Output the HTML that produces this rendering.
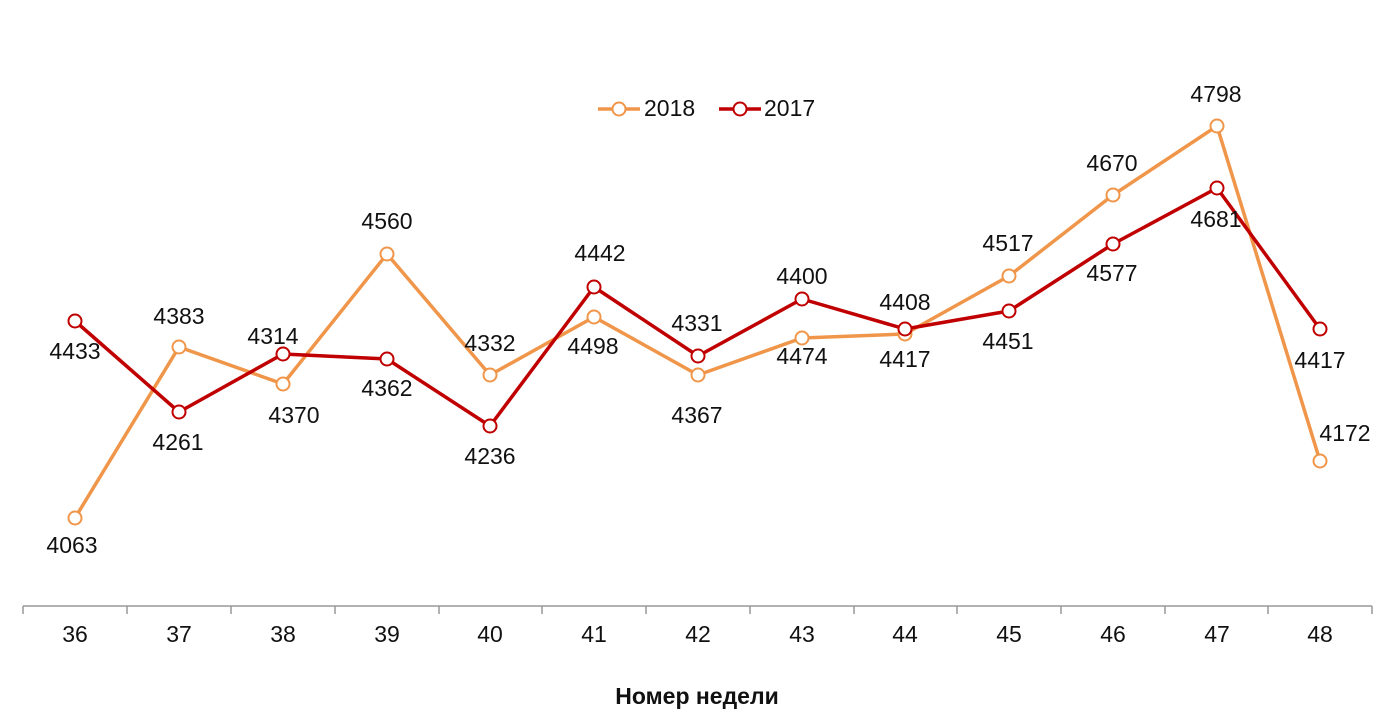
<!DOCTYPE html>
<html><head><meta charset="utf-8"><style>
html,body{margin:0;padding:0;background:#fff;}
svg text{font-family:"Liberation Sans",Arial,sans-serif;font-size:23px;fill:#111;}
</style></head><body>
<svg width="1396" height="721" viewBox="0 0 1396 721" xmlns="http://www.w3.org/2000/svg">
<line x1="23" y1="606" x2="1372" y2="606" stroke="#999" stroke-width="1.5"/>
<g stroke="#999" stroke-width="1.5">
<line x1="23" y1="606" x2="23" y2="614"/><line x1="127" y1="606" x2="127" y2="614"/><line x1="231" y1="606" x2="231" y2="614"/><line x1="335" y1="606" x2="335" y2="614"/><line x1="439" y1="606" x2="439" y2="614"/><line x1="542" y1="606" x2="542" y2="614"/><line x1="646" y1="606" x2="646" y2="614"/><line x1="750" y1="606" x2="750" y2="614"/><line x1="854" y1="606" x2="854" y2="614"/><line x1="957" y1="606" x2="957" y2="614"/><line x1="1061" y1="606" x2="1061" y2="614"/><line x1="1165" y1="606" x2="1165" y2="614"/><line x1="1268" y1="606" x2="1268" y2="614"/><line x1="1372" y1="606" x2="1372" y2="614"/>
</g>
<g text-anchor="middle" dominant-baseline="middle">
<text x="75" y="636">36</text><text x="179" y="636">37</text><text x="283" y="636">38</text><text x="387" y="636">39</text><text x="490" y="636">40</text><text x="594" y="636">41</text><text x="698" y="636">42</text><text x="802" y="636">43</text><text x="905" y="636">44</text><text x="1009" y="636">45</text><text x="1113" y="636">46</text><text x="1217" y="636">47</text><text x="1320" y="636">48</text>
<text x="697" y="698" font-weight="bold">Номер недели</text>
</g>
<polyline fill="none" stroke="#F0964A" stroke-width="3.5" stroke-linejoin="round" points="75,518 179,347 283,384 387,254 490,375 594,317 698,375 802,338 905,334 1009,276 1113,195 1217,126 1320,461"/>
<polyline fill="none" stroke="#C00000" stroke-width="3.5" stroke-linejoin="round" points="75,321 179,412 283,354 387,359 490,426 594,287 698,356 802,299 905,329 1009,311 1113,244 1217,188 1320,329"/>
<g fill="#fff" stroke="#F0964A" stroke-width="2">
<circle cx="75" cy="518" r="6.5"/><circle cx="179" cy="347" r="6.5"/><circle cx="283" cy="384" r="6.5"/><circle cx="387" cy="254" r="6.5"/><circle cx="490" cy="375" r="6.5"/><circle cx="594" cy="317" r="6.5"/><circle cx="698" cy="375" r="6.5"/><circle cx="802" cy="338" r="6.5"/><circle cx="905" cy="334" r="6.5"/><circle cx="1009" cy="276" r="6.5"/><circle cx="1113" cy="195" r="6.5"/><circle cx="1217" cy="126" r="6.5"/><circle cx="1320" cy="461" r="6.5"/>
</g>
<g fill="#fff" stroke="#C00000" stroke-width="2">
<circle cx="75" cy="321" r="6.5"/><circle cx="179" cy="412" r="6.5"/><circle cx="283" cy="354" r="6.5"/><circle cx="387" cy="359" r="6.5"/><circle cx="490" cy="426" r="6.5"/><circle cx="594" cy="287" r="6.5"/><circle cx="698" cy="356" r="6.5"/><circle cx="802" cy="299" r="6.5"/><circle cx="905" cy="329" r="6.5"/><circle cx="1009" cy="311" r="6.5"/><circle cx="1113" cy="244" r="6.5"/><circle cx="1217" cy="188" r="6.5"/><circle cx="1320" cy="329" r="6.5"/>
</g>
<g text-anchor="middle" dominant-baseline="middle">
<text x="72" y="547">4063</text><text x="179" y="318">4383</text><text x="294" y="417">4370</text><text x="387" y="223">4560</text><text x="490" y="345">4332</text><text x="593" y="348">4498</text><text x="697" y="417">4367</text><text x="802" y="358">4474</text><text x="905" y="361">4417</text><text x="1008" y="245">4517</text><text x="1112" y="165">4670</text><text x="1216" y="96">4798</text><text x="1345" y="435">4172</text>
<text x="75" y="353">4433</text><text x="178" y="444">4261</text><text x="273" y="338">4314</text><text x="387" y="390">4362</text><text x="490" y="458">4236</text><text x="600" y="255">4442</text><text x="697" y="325">4331</text><text x="802" y="278">4400</text><text x="905" y="304">4408</text><text x="1008" y="343">4451</text><text x="1112" y="275">4577</text><text x="1216" y="221">4681</text><text x="1320" y="362">4417</text>
</g>
<line x1="598" y1="109" x2="640" y2="109" stroke="#F0964A" stroke-width="3.5"/>
<circle cx="619" cy="109" r="6.5" fill="#fff" stroke="#F0964A" stroke-width="2"/>
<text x="644" y="110" dominant-baseline="middle">2018</text>
<line x1="719" y1="109" x2="761" y2="109" stroke="#C00000" stroke-width="3.5"/>
<circle cx="740" cy="109" r="6.5" fill="#fff" stroke="#C00000" stroke-width="2"/>
<text x="764" y="110" dominant-baseline="middle">2017</text>
</svg>
</body></html>
